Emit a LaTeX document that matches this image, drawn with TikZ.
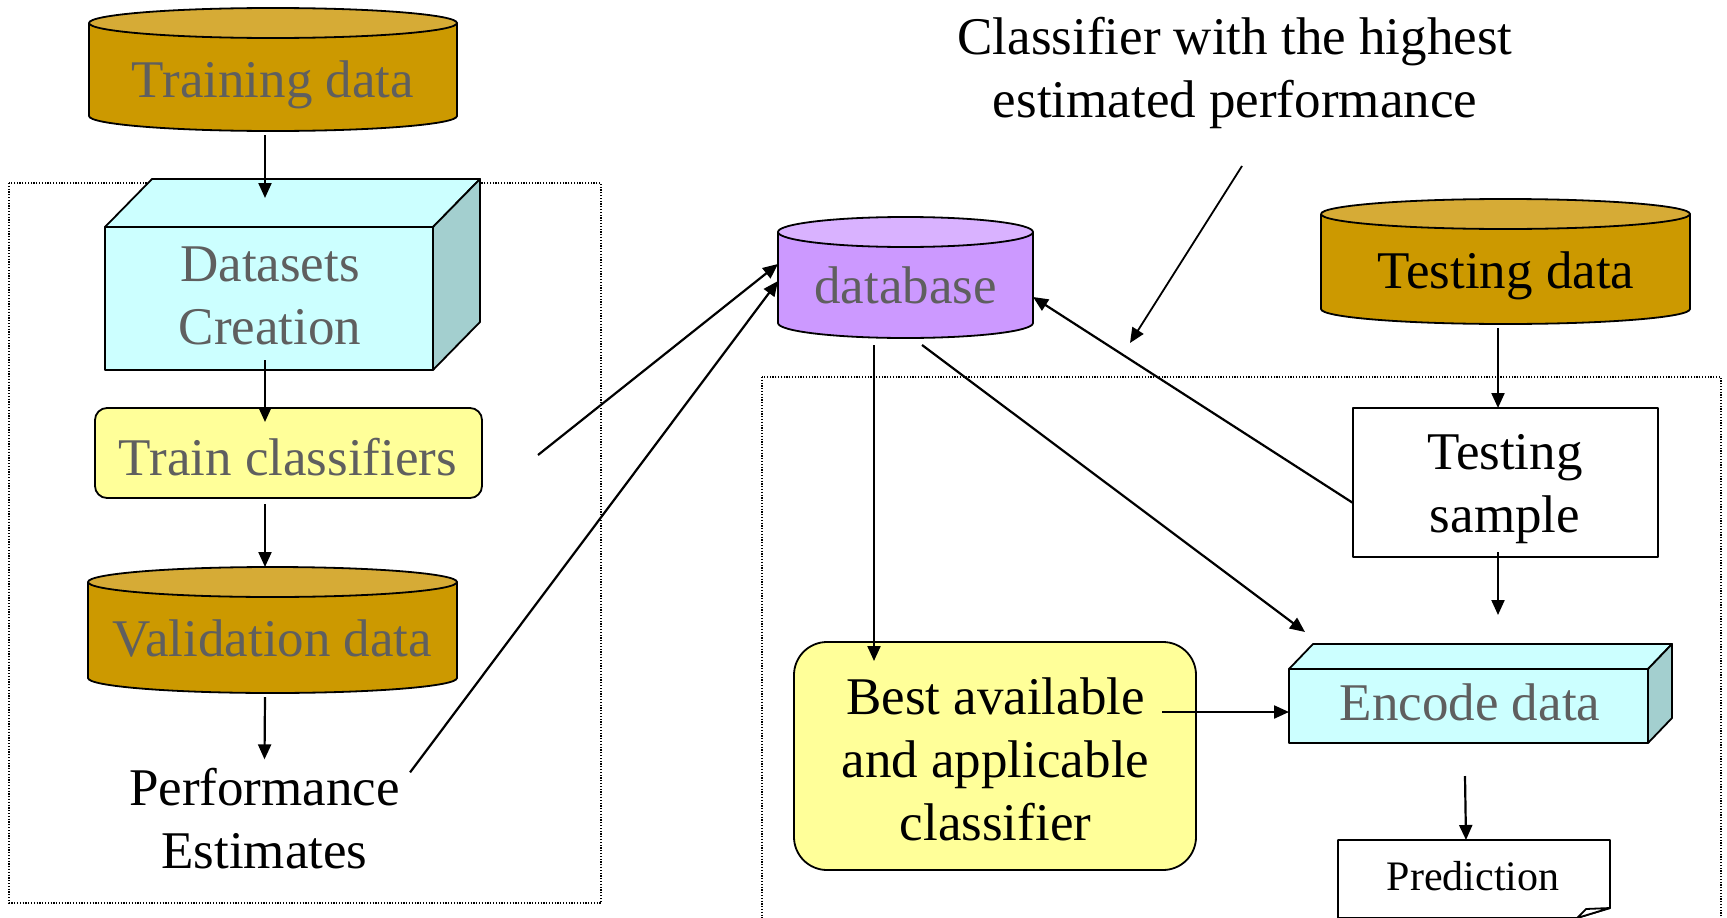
\documentclass[tikz,border=0pt]{standalone}
\usepackage{fontspec}
\setmainfont{Liberation Serif}
\usetikzlibrary{arrows.meta}
\definecolor{gold}{HTML}{CC9900}
\definecolor{goldtop}{HTML}{D6AB36}
\definecolor{purp}{HTML}{CC99FF}
\definecolor{purptop}{HTML}{D9B2FF}
\definecolor{cubefront}{HTML}{CCFFFF}
\definecolor{cubeside}{HTML}{A3CFCF}
\definecolor{yel}{HTML}{FFFF99}
\definecolor{txtgray}{HTML}{5F5F5F}

% cylinder: cx, rx, top-centre y, bottom-centre y, ry, body colour, top colour
\newcommand\mycyl[7]{%
  \fill[#6] (#1-#2,#3) rectangle (#1+#2,#4);
  \fill[#6] (#1,#4) ellipse [x radius=#2pt, y radius=#5pt];
  \draw[outline] (#1-#2,#3) -- (#1-#2,#4) arc [start angle=180, end angle=360, x radius=#2pt, y radius=#5pt] -- (#1+#2,#3);
  \filldraw[fill=#7, outline] (#1,#3) ellipse [x radius=#2pt, y radius=#5pt];
}
% cube faces on a front-face node: name, dx, dy
\newcommand\mycube[3]{%
  \filldraw[fill=cubefront, outline] (#1.north west) -- ++(#2,-#3) -- ([shift={(#2,-#3)}]#1.north east) -- (#1.north east) -- cycle;
  \filldraw[fill=cubeside, outline] (#1.north east) -- ++(#2,-#3) -- ([shift={(#2,-#3)}]#1.south east) -- (#1.south east) -- cycle;
}

\begin{document}
\begin{tikzpicture}[x=1pt,y=-1pt,
  outline/.style={line width=1.8pt, draw=black, line join=round},
  arr/.style={line width=2.2pt, -{Triangle[length=15pt,width=13pt]}},
  frame/.style={line width=1.1pt, dash pattern=on 1.2pt off 1.6pt},
  lbl/.style={font=\fontsize{53}{63}\selectfont, align=center, inner sep=0pt},
  glbl/.style={lbl, text=txtgray},
  anchorbox/.style={inner sep=0pt, outer sep=0pt, draw=none},
  facebox/.style={inner sep=0pt, outer sep=0pt, outline},
]
\clip (0,0) rectangle (1727,918);

% dotted frames
\draw[frame] (9,183) rectangle (601,903);
\draw[frame] (762,377) rectangle (1721,940);

% ---------- left column ----------
\mycyl{273}{184}{23}{116}{15}{gold}{goldtop}
\node[anchorbox, minimum width=368pt, minimum height=123pt] (trainingdata) at (273,69.5) {};
\node[glbl, anchor=base] (trainingtxt) at (273,97) {Training data};

\node[facebox, fill=cubefront, minimum width=328pt, minimum height=143pt] (datasets) at (269,298.5) {};
\mycube{datasets}{47}{48}
\node[glbl] (datasetstxt) at (270,296) {Datasets\\Creation};

\node[facebox, fill=yel, rounded corners=12pt, minimum width=387pt, minimum height=90pt] (train) at (288.5,453) {};
\node[glbl, anchor=base] (traintxt) at (288,475) {Train classifiers};

\mycyl{272.5}{184.5}{582}{678}{15}{gold}{goldtop}
\node[anchorbox, minimum width=369pt, minimum height=126pt] (validation) at (272.5,630) {};
\node[glbl, anchor=base] (validationtxt) at (272.5,656) {Validation data};

\node[lbl] (perf) at (264.5,819) {Performance\\Estimates};

% ---------- database ----------
\mycyl{905.5}{127.5}{232}{323}{15}{purp}{purptop}
\node[anchorbox, minimum width=255pt, minimum height=121pt] (db) at (905.5,277.5) {};
\node[glbl, anchor=base] (dbtxt) at (905.5,303) {database};

\node[lbl] (toptext) at (1235,73) {Classifier with the highest\\estimated performance};
\coordinate (toptip) at (1130,343);

% ---------- right part ----------
\mycyl{1505.5}{184.5}{214}{309}{15}{gold}{goldtop}
\node[anchorbox, minimum width=369pt, minimum height=125pt] (testingdata) at (1505.5,261.5) {};
\node[lbl, anchor=base] (testingdatatxt) at (1506,288) {Testing data};

\node[facebox, fill=white, minimum width=305pt, minimum height=149pt] (testsample) at (1505.5,482.5) {};
\node[lbl] (testsampletxt) at (1505,488.7) {Testing\\sample};

\node[facebox, fill=cubefront, minimum width=359pt, minimum height=74pt] (encode) at (1468.5,706) {};
\mycube{encode}{24}{25}
\node[glbl, anchor=base] (encodetxt) at (1470,720) {Encode data};

\node[facebox, fill=yel, rounded corners=33pt, minimum width=402pt, minimum height=228pt] (best) at (995,756) {};
\node[lbl] (besttxt) at (995.5,759) {Best available\\and applicable\\classifier};

\node[anchorbox, minimum width=272pt, minimum height=78pt] (pred) at (1474,879) {};
\filldraw[fill=white, outline] (pred.north west) -- (pred.north east) -- (1610,908) -- (1577,918) -- (1338,918) -- cycle;
\filldraw[fill=white, outline] (1610,908) -- (1586,909) -- (1577,918) -- cycle;
\node[font=\fontsize{42}{50}\selectfont, anchor=base, inner sep=0pt] (predtxt) at (1473,890) {Prediction};

% ---------- connectors ----------
\draw[arr] ([xshift=-8pt,yshift=-4pt]trainingdata.south) -- ([xshift=-4pt,yshift=29pt]datasets.north);
\draw[arr] ([xshift=-4pt,yshift=10pt]datasets.south) -- ([xshift=-23.5pt,yshift=-14pt]train.north);
\draw[arr] ([xshift=-23.5pt,yshift=-6pt]train.south) -- ([xshift=-7.5pt]validation.north);
\draw[arr] ([xshift=-7.5pt,yshift=-4pt]validation.south) -- ([yshift=9pt]perf.north);
\draw[arr] ([xshift=56pt,yshift=-2pt]train.east) -- ([yshift=13.5pt]db.west);
\draw[arr] ([xshift=10pt,yshift=-4pt]perf.north east) -- ([yshift=-3.5pt]db.west);
\draw[arr, line width=1.8pt] ([xshift=7pt,yshift=-37pt]toptext.south) -- (toptip);
\draw[arr] ([xshift=-7.5pt,yshift=-4pt]testingdata.south) -- ([xshift=-7.5pt]testsample.north);
\draw[arr] ([yshift=-20.5pt]testsample.west) -- ([yshift=-19.5pt]db.east);
\draw[arr] ([xshift=-7.5pt,yshift=5pt]testsample.south) -- ([xshift=29.5pt,yshift=54pt]encode.north);
\draw[arr] ([xshift=-31.5pt,yshift=-7pt]db.south) -- ([xshift=80pt,yshift=-19pt]best.north west);
\draw[arr] ([xshift=16.5pt,yshift=-7pt]db.south) -- ([xshift=16pt,yshift=37pt]encode.north west);
\draw[arr] ([xshift=-34pt,yshift=44pt]best.east) -- ([yshift=-6pt]encode.west);
\draw[arr] ([xshift=-3.5pt,yshift=-33pt]encode.south) -- ([xshift=-8pt]pred.north);
\end{tikzpicture}
\end{document}
